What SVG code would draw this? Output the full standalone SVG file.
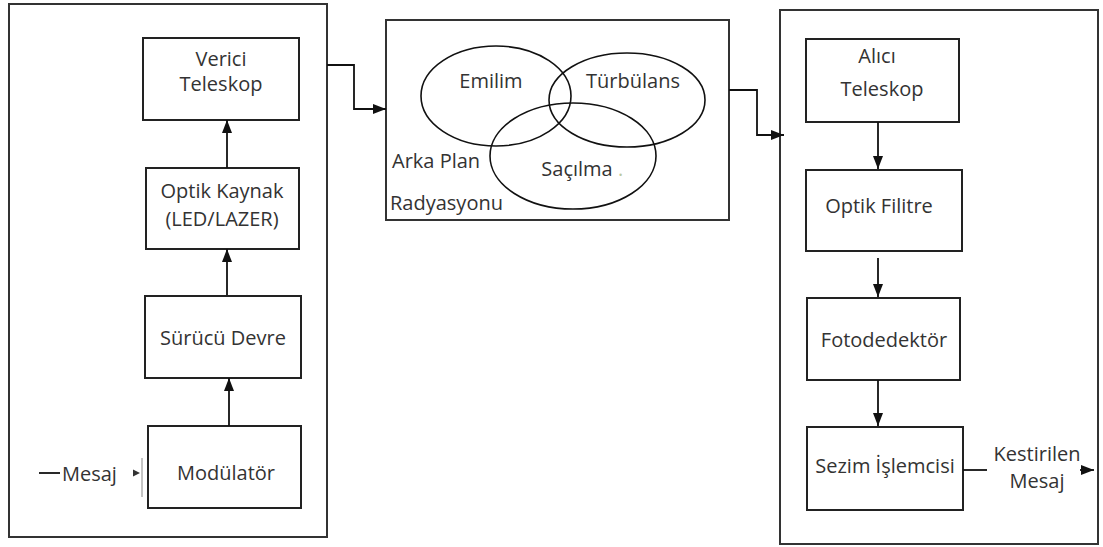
<svg xmlns="http://www.w3.org/2000/svg" width="1103" height="547" viewBox="0 0 1103 547">
<defs>
<style>
.box{fill:none;stroke:#222;stroke-width:2}
.frame{fill:none;stroke:#333;stroke-width:2}
.ell{fill:none;stroke:#111;stroke-width:1.6}
.t{font-family:"Open Sans","DejaVu Sans",sans-serif;font-size:20px;fill:#333;text-anchor:middle;dominant-baseline:central}
.tl{font-family:"Open Sans","DejaVu Sans",sans-serif;font-size:20px;fill:#333;dominant-baseline:central}
.c{fill:none;stroke:#111;stroke-width:1.8}
</style>
<marker id="ah" viewBox="0 0 13 10" refX="13" refY="5" markerWidth="13" markerHeight="10" markerUnits="userSpaceOnUse" orient="auto">
<path d="M0,0 L13,5 L0,10 z" fill="#111"/>
</marker>
</defs>
<rect width="1103" height="547" fill="#fff"/>
<g id="transmitter">
<rect class="frame" x="9" y="4" width="318" height="533"/>
</g>
<g id="channel">
<rect class="frame" x="386" y="20" width="343" height="200"/>
</g>
<g id="receiver">
<rect class="frame" x="780" y="10" width="318" height="534"/>
</g>
<g id="verici">
<rect class="box" x="143" y="38" width="156" height="82"/>
<text class="t" x="221" y="58">Verici</text>
<text class="t" x="221" y="83">Teleskop</text>
</g>
<g id="optik-kaynak">
<rect class="box" x="146" y="168" width="153" height="81"/>
<text class="t" x="222" y="190">Optik Kaynak</text>
<text class="t" x="222" y="218">(LED/LAZER)</text>
</g>
<g id="surucu">
<rect class="box" x="145" y="296" width="156" height="82"/>
<text class="t" x="223" y="337">Sürücü Devre</text>
</g>
<g id="modulator">
<rect class="box" x="148" y="426" width="153" height="82"/>
<text class="t" x="226" y="472">Modülatör</text>
</g>
<g id="emilim">
<ellipse class="ell" cx="496" cy="96" rx="75" ry="50"/>
<text class="t" x="491" y="80">Emilim</text>
</g>
<g id="turbulans">
<ellipse class="ell" cx="627" cy="100" rx="78" ry="47"/>
<text class="t" x="633" y="80">Türbülans</text>
</g>
<g id="sacilma">
<ellipse class="ell" cx="573" cy="156" rx="83" ry="53"/>
<text class="t" x="577" y="168">Saçılma</text>
<text class="tl" x="618" y="168" style="fill:#bcc9a0">.</text>
</g>
<g id="arka-plan">
<text class="tl" x="392" y="160">Arka Plan</text>
<text class="tl" x="390" y="202">Radyasyonu</text>
</g>
<g id="alici">
<rect class="box" x="806" y="39" width="153" height="83"/>
<text class="t" x="877" y="55">Alıcı</text>
<text class="t" x="882" y="88">Teleskop</text>
</g>
<g id="optik-filitre">
<rect class="box" x="806" y="170" width="156" height="81"/>
<text class="t" x="879" y="205">Optik Filitre</text>
</g>
<g id="fotodedektor">
<rect class="box" x="807" y="298" width="153" height="82"/>
<text class="t" x="884" y="339">Fotodedektör</text>
</g>
<g id="sezim">
<rect class="box" x="807" y="427" width="156" height="83"/>
<text class="t" x="885" y="465">Sezim İşlemcisi</text>
</g>
<g id="mesaj-in">
<text class="tl" x="62" y="473">Mesaj</text>
</g>
<g id="kestirilen">
<text class="t" x="1037" y="453">Kestirilen</text>
<text class="t" x="1037" y="480">Mesaj</text>
</g>
<g id="connectors">
<path class="c" d="M227,168 V120" marker-end="url(#ah)"/>
<path class="c" d="M227,295 V249" marker-end="url(#ah)"/>
<path class="c" d="M229,426 V378" marker-end="url(#ah)"/>
<path class="c" d="M39,473 H60"/>
<path d="M133,469.5 L140,473 L133,476.5 z" fill="#333"/>
<path d="M142,458 V497" stroke="#888" stroke-width="1" fill="none"/>
<path class="c" d="M327,65 H354 V109 H386" marker-end="url(#ah)"/>
<path class="c" d="M729,90 H757 V135 H784" marker-end="url(#ah)"/>
<path class="c" d="M878,122 V169" marker-end="url(#ah)"/>
<path class="c" d="M878,258 V297" marker-end="url(#ah)"/>
<path class="c" d="M878,380 V426" marker-end="url(#ah)"/>
<path class="c" d="M963,470 H987"/>
<path class="c" d="M1080,470 H1094" marker-end="url(#ah)"/>
</g>
</svg>
